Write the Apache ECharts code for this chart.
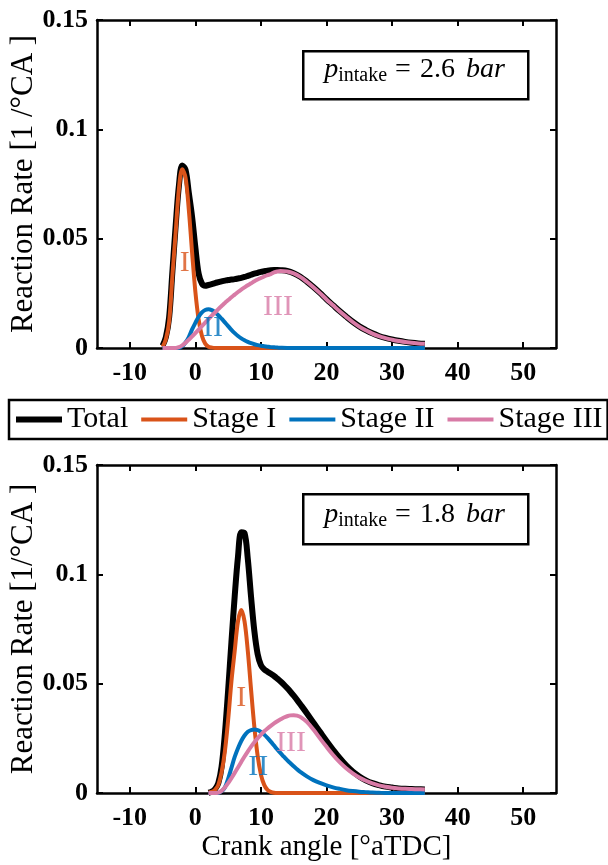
<!DOCTYPE html>
<html>
<head>
<meta charset="utf-8">
<script src="https://cdn.jsdelivr.net/npm/echarts@6/dist/echarts.min.js"></script>
<style>html,body{margin:0;padding:0;background:#fff}#c{width:608px;height:865px}</style>
</head>
<body>
<div id="c"></div>
<script>
// ---------- data: top panel (p_intake = 2.6 bar) ----------
const xTop = [-5,-4.5,-4,-3.5,-3,-2.5,-2,-1.5,-1,-0.5,0,0.5,1,1.5,2,2.5,3,3.5,4,4.5,5,5.5,6,6.5,7,7.5,8,8.5,9,9.5,10,10.5,11,11.5,12,12.5,13,
  14,15,16,17,18,19,20,21,22,23,24,25,26,27,28,29,30,31,32,33,34,35];
const totalTop = [0.001,0.005,0.014,0.035,0.056,0.0745,0.0835,0.0815,0.071,0.060,0.046,0.034,0.0295,0.0285,0.0288,0.0292,0.0297,0.0301,0.0305,0.0308,0.0311,0.0313,0.0315,0.0318,0.0321,0.0325,0.0330,0.0335,0.0340,0.0344,0.0348,0.0351,0.0354,0.0356,0.0357,0.0357,0.0356,
  0.0352,0.0342,0.0326,0.0304,0.0279,0.0252,0.0223,0.0196,0.0169,0.0144,0.0120,0.0099,0.0082,0.0067,0.0055,0.0046,0.0039,0.0033,0.0028,0.0024,0.0021,0.0019];
const stage1Top = [0.0005,0.004,0.012,0.033,0.053,0.073,0.0818,0.0779,0.0633,0.0438,0.0258,0.013,0.0056,0.002,0.0006,0.0002,0,0,0,0,0,0,0,0,0,0,0,0,0,0,0,0,0,0,0,0,0,
  0,0,0,0,0,0,0,0,0,0,0,0,0,0,0,0,0,0,0,0,0,0];
const stage2Top = [0,0,0,0,0,0,0.0008,0.0025,0.005,0.0085,0.0115,0.0143,0.0163,0.0174,0.0177,0.0173,0.0163,0.015,0.0134,0.0117,0.010,0.0083,0.0068,0.0055,0.0044,0.0035,0.0028,0.0022,0.0017,0.0013,0.001,0.0008,0.0006,0.0004,0.0003,0.0002,0.0001,
  0,0,0,0,0,0,0,0,0,0,0,0,0,0,0,0,0,0,0,0,0,0];
const stage3Top = [0,0,0,0,0,0.0004,0.0012,0.0024,0.0038,0.0053,0.0068,0.0084,0.010,0.0116,0.0132,0.0148,0.0163,0.0178,0.0192,0.0206,0.0219,0.0232,0.0244,0.0256,0.0267,0.0277,0.0287,0.0296,0.0305,0.0313,0.0320,0.0327,0.0333,0.0338,0.0346,0.0350,0.0352,
  0.0350,0.0341,0.0325,0.0303,0.0278,0.0251,0.0222,0.0195,0.0168,0.0143,0.0119,0.0098,0.0081,0.0066,0.0054,0.0045,0.0038,0.0032,0.0027,0.0024,0.0021,0.0019];
const labelTextTop = ['I','II','III'];
const labelXTop = [-1.6, 2.7, 12.6];
const labelYTop = [0.039, 0.0091, 0.0189];

// ---------- data: bottom panel (p_intake = 1.8 bar) ----------
const xBot = [2,2.5,3,3.5,4,4.5,5,5.5,6,6.5,7,7.5,8,8.5,9,9.5,10,10.5,11,11.5,12,12.5,13,13.5,14,14.5,15,15.5,16,
  17,18,19,20,21,22,23,24,25,26,27,28,29,30,31,32,33,34,35];
const totalBot = [0.0001,0.0006,0.0018,0.0045,0.012,0.027,0.047,0.069,0.090,0.108,0.1192,0.1188,0.107,0.0895,0.074,0.0635,0.0585,0.0565,0.0555,0.0545,0.0535,0.0523,0.0510,0.0496,0.0480,0.0463,0.0445,0.0426,0.0406,
  0.0365,0.0322,0.0280,0.0238,0.0198,0.0160,0.0126,0.0098,0.0076,0.0058,0.0045,0.0036,0.0029,0.0025,0.0021,0.0019,0.0018,0.0017,0.0016];
const stage1Bot = [0.0001,0.0005,0.0014,0.0037,0.0095,0.019,0.0335,0.051,0.0649,0.0785,0.0837,0.0785,0.0649,0.0471,0.0302,0.017,0.0084,0.0037,0.0014,0.0005,0.0001,0,0,0,0,0,0,0,0,
  0,0,0,0,0,0,0,0,0,0,0,0,0,0,0,0,0,0,0];
const stage2Bot = [0,0,0,0,0.0008,0.0025,0.0065,0.0115,0.0165,0.0205,0.0238,0.0263,0.0280,0.0288,0.0290,0.0287,0.0279,0.0267,0.0252,0.0235,0.0217,0.0199,0.0182,0.0166,0.0150,0.0136,0.0122,0.0109,0.0097,
  0.0076,0.0059,0.0046,0.0035,0.0026,0.0019,0.0013,0.0009,0.0006,0.0004,0.0002,0.0001,0,0,0,0,0,0,0];
const stage3Bot = [0,0,0,0.0002,0.001,0.0025,0.0045,0.0068,0.0092,0.0117,0.0142,0.0167,0.019,0.0212,0.0232,0.025,0.0267,0.0282,0.0295,0.0307,0.0318,0.0328,0.0337,0.0345,0.0351,0.0355,0.0356,0.0354,0.0348,
  0.0325,0.0290,0.0250,0.0211,0.0174,0.0141,0.0113,0.0090,0.0071,0.0056,0.0044,0.0035,0.0029,0.0024,0.0021,0.0019,0.0018,0.0017,0.0016];
const labelTextBot = ['I','II','III'];
const labelXBot = [7.0, 9.6, 14.6];
const labelYBot = [0.0434, 0.012, 0.0227];

// ---------- axis ticks / text ----------
const xTicks = [-10,0,10,20,30,40,50];
const seriesNames = ['Total','Stage I','Stage II','Stage III'];
const yNameTop = 'Reaction Rate [1 /°CA ]';
const yNameBot = 'Reaction Rate [1/°CA ]';
const xName = 'Crank angle [°aTDC]';
const pTop = '2.6', pBot = '1.8';

// ---------- styling ----------
const colors = ['#000000','#D95319','#0072BD','#D87BA6'];
const widths = [6,4,4,4];
const legendIcons = ['path://M0,0H46V6H0Z','path://M0,0H46V4H0Z','path://M0,0H46V4H0Z','path://M0,0H46V4H0Z'];
const serif = '"Liberation Serif","Times New Roman",serif';

const grids = [
  {left:97, top:20, width:459, height:328, outerBoundsMode:'none', containLabel:false},
  {left:97, top:465, width:459, height:328, outerBoundsMode:'none', containLabel:false}
];

function pairs(xs, ys){ return xs.map((x,i)=>[x, ys[i]]); }

const xAxes = [], yAxes = [], series = [];
const panels = [
  {xs:xTop, ys:[totalTop,stage1Top,stage2Top,stage3Top], lt:labelTextTop, lx:labelXTop, ly:labelYTop, yName:yNameTop, xName:''},
  {xs:xBot, ys:[totalBot,stage1Bot,stage2Bot,stage3Bot], lt:labelTextBot, lx:labelXBot, ly:labelYBot, yName:yNameBot, xName:xName}
];

const axisLine = {show:true, onZero:false, lineStyle:{color:'#000', width:2.5}};
panels.forEach((p, g) => {
  xAxes.push({
    type:'value', gridIndex:g, position:'bottom', min:-15, max:55,
    axisLine, splitLine:{show:false},
    axisTick:{show:true, inside:true, length:6, customValues:xTicks, lineStyle:{color:'#000', width:2}},
    axisLabel:{show:true, customValues:xTicks, margin:12, color:'#000', fontFamily:serif, fontWeight:'bold', fontSize:26},
    name:p.xName, nameLocation:'middle', nameGap:40, nameMoveOverlap:false,
    nameTextStyle:{color:'#000', fontFamily:serif, fontSize:29}
  });
  xAxes.push({
    type:'value', gridIndex:g, position:'top', min:-15, max:55,
    axisLine, splitLine:{show:false},
    axisTick:{show:true, inside:true, length:6, customValues:xTicks, lineStyle:{color:'#000', width:2}},
    axisLabel:{show:false}
  });
  yAxes.push({
    type:'value', gridIndex:g, position:'left', min:0, max:0.15, interval:0.05,
    axisLine, splitLine:{show:false},
    axisTick:{show:true, inside:true, length:6, lineStyle:{color:'#000', width:2}},
    axisLabel:{margin:9, color:'#000', fontFamily:serif, fontWeight:'bold', fontSize:26},
    name:p.yName, nameLocation:'middle', nameGap:58, nameMoveOverlap:false,
    nameTextStyle:{color:'#000', fontFamily:serif, fontSize:31}
  });
  yAxes.push({
    type:'value', gridIndex:g, position:'right', min:0, max:0.15, interval:0.05,
    axisLine, splitLine:{show:false},
    axisTick:{show:true, inside:true, length:6, lineStyle:{color:'#000', width:2}},
    axisLabel:{show:false}
  });
  p.ys.forEach((ys, k) => {
    series.push({
      type:'line', name:seriesNames[k], xAxisIndex:2*g, yAxisIndex:2*g,
      data:pairs(p.xs, ys), smooth:0.35, symbol:'none',
      lineStyle:{color:colors[k], width:widths[k]}, itemStyle:{color:colors[k]},
      z:2+k, animation:false
    });
  });
  series.push({
    type:'scatter', xAxisIndex:2*g, yAxisIndex:2*g, symbolSize:0, z:10, silent:true,
    data:p.lt.map((t,i)=>({value:[p.lx[i], p.ly[i]], name:t,
      label:{show:true, position:'inside', formatter:t, color:colors[i+1], fontFamily:serif, fontSize:30}})),
    animation:false
  });
});

function annot(top, h, val, ty){
  return [
    {type:'rect', left:302, top:top, z:100, shape:{width:225, height:h},
     style:{fill:'#fff', stroke:'#000', lineWidth:2.5}},
    {type:'text', x:414.5, y:ty, z:101,
     style:{text:'{p|p}{s|intake}{eq|=}{n|'+val+'}{i|bar}', align:'center', verticalAlign:'middle',
       fill:'#000',
       rich:{
         p:{fontFamily:serif, fontStyle:'italic', fontSize:28, lineHeight:32, fill:'#000'},
         s:{fontFamily:serif, fontSize:20, lineHeight:20, padding:[12,0,0,0], fill:'#000'},
         eq:{fontFamily:serif, fontSize:28, lineHeight:32, padding:[0,9,0,8], fill:'#000'},
         n:{fontFamily:serif, fontSize:28, lineHeight:32, fill:'#000'},
         i:{fontFamily:serif, fontStyle:'italic', fontSize:28, lineHeight:32, padding:[0,0,0,11], fill:'#000'}
       }}}
  ];
}

const chart = echarts.init(document.getElementById('c'), null, {renderer:'canvas'});
chart.setOption({
  backgroundColor:'#fff',
  animation:false,
  grid:grids,
  xAxis:xAxes,
  yAxis:yAxes,
  series:series,
  legend:{
    data:seriesNames.map((n,i)=>({name:n, icon:legendIcons[i]})),
    left:9, top:400, width:594, orient:'horizontal', selectedMode:false,
    itemWidth:46, itemHeight:12, itemGap:13, padding:[3,5,3,7],
    borderColor:'#000', borderWidth:2.5, backgroundColor:'#fff',
    textStyle:{fontFamily:serif, fontSize:30, color:'#000', lineHeight:33}
  },
  graphic:[].concat(annot(50, 48, pTop, 70), annot(493, 50, pBot, 515))
});
</script>
</body>
</html>
